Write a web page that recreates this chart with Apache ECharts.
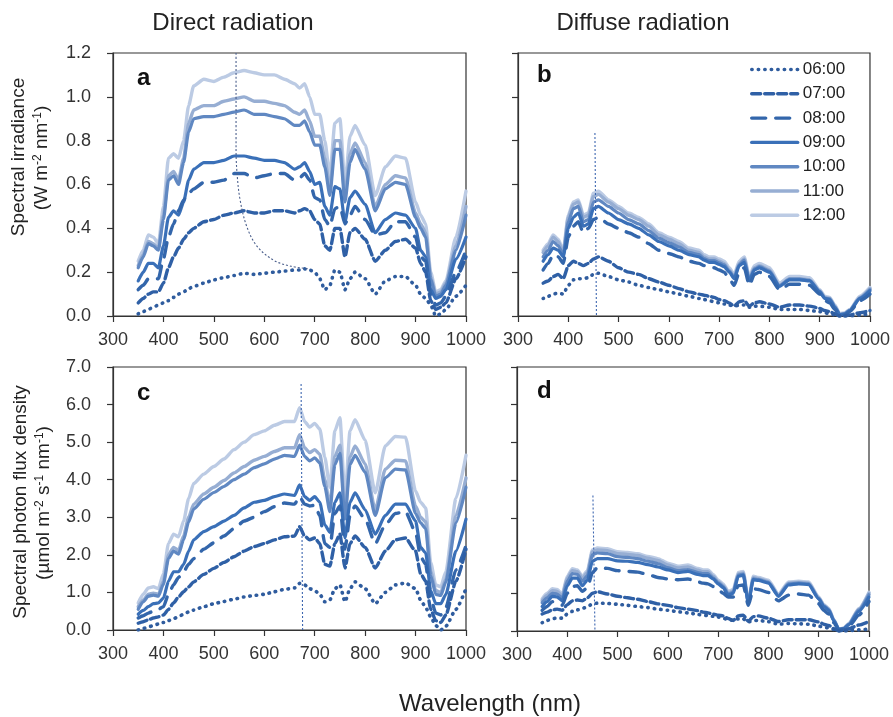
<!DOCTYPE html>
<html>
<head>
<meta charset="utf-8">
<script src="https://cdn.jsdelivr.net/npm/echarts@6/dist/echarts.min.js"></script>
<style>
html, body { margin: 0; padding: 0; background: #fff; }
#chart { width: 893px; height: 717px; }
</style>
</head>
<body>
<div id="chart"></div>
<script>
// Wavelength grid (nm) shared by every spectrum
const wavelengths = [
  350, 360, 370, 380, 390, 400, 410, 420, 430, 440, 450, 460,
  480, 500, 520, 540, 560, 580, 600, 620, 640, 660,
  670, 680, 690, 700, 710, 720, 730, 740, 750, 760, 770, 780,
  800, 820, 840, 860, 880, 900,
  910, 920, 930, 940, 950, 960,
  980, 1000
];

const hours = ['06:00', '07:00', '08:00', '09:00', '10:00', '11:00', '12:00'];
const xTicks = [300, 400, 500, 600, 700, 800, 900, 1000];

// (a) Direct radiation, spectral irradiance (W m-2 nm-1)
const dirIrr06 = [.01,.02,.03,.04,.05,.06,.07,.085,.10,.11,.125,.135, .15,.165,.175,.185,.195,.19,.195,.20,.205,.21, .21,.215,.21,.20,.17,.12,.14,.21,.20,.12,.17,.20, .17,.10,.16,.18,.18,.14, .10,.08,.05,0,.01,.03, .09,.14];
const dirIrr07 = [.06,.08,.10,.11,.11,.15,.22,.27,.31,.35,.38,.40, .43,.44,.46,.47,.48,.47,.47,.48,.48,.47, .48,.49,.48,.44,.42,.32,.30,.40,.40,.27,.38,.40, .35,.25,.30,.34,.35,.31, .24,.20,.07,.03,.04,.06, .17,.27];
const dirIrr08 = [.12,.14,.17,.17,.17,.26,.36,.42,.48,.53,.56,.58, .61,.61,.62,.65,.65,.63,.64,.65,.65,.62, .63,.65,.62,.54,.53,.44,.41,.49,.50,.42,.46,.50, .44,.37,.38,.43,.43,.36, .27,.25,.10,.05,.06,.09, .20,.30];
const dirIrr09 = [.16,.20,.24,.24,.22,.32,.45,.48,.46,.52,.62,.67, .70,.70,.71,.73,.73,.72,.71,.71,.70,.67, .68,.70,.66,.60,.61,.50,.46,.59,.58,.43,.54,.57, .51,.38,.44,.47,.46,.40, .30,.27,.12,.08,.09,.12, .26,.36];
const dirIrr10 = [.22,.27,.33,.32,.30,.44,.62,.64,.60,.70,.84,.90, .91,.91,.92,.93,.94,.92,.92,.91,.90,.87, .87,.89,.84,.78,.78,.68,.55,.76,.76,.52,.70,.76, .67,.48,.58,.61,.60,.45, .40,.36,.17,.09,.10,.14, .30,.46];
const dirIrr11 = [.23,.28,.34,.33,.31,.46,.64,.66,.62,.72,.88,.94, .96,.96,.98,.99,1.00,.98,.98,.97,.96,.93, .92,.94,.89,.82,.82,.72,.58,.80,.80,.55,.74,.79, .70,.50,.60,.64,.63,.47, .42,.38,.18,.10,.11,.15, .32,.50];
const dirIrr12 = [.25,.30,.37,.36,.33,.50,.72,.74,.72,.80,.96,1.05, 1.08,1.07,1.09,1.11,1.12,1.11,1.10,1.10,1.08,1.06, 1.04,1.06,1.00,.92,.92,.80,.64,.88,.90,.60,.82,.87, .78,.55,.68,.73,.72,.52, .46,.42,.20,.11,.12,.16, .36,.57];

// (b) Diffuse radiation, spectral irradiance (W m-2 nm-1)
const difIrr06 = [.08,.09,.10,.105,.10,.14,.165,.17,.17,.175,.19,.195, .18,.165,.155,.14,.13,.12,.11,.10,.09,.08, .075,.07,.065,.06,.055,.05,.045,.05,.05,.04,.045,.045, .04,.03,.03,.03,.025,.02, .015,.01,.005,0,0,0, .005,.01];
const difIrr07 = [.15,.16,.18,.19,.17,.23,.25,.24,.23,.24,.26,.27, .25,.22,.20,.19,.17,.155,.14,.125,.11,.10, .095,.09,.085,.075,.07,.06,.045,.065,.07,.045,.06,.065, .055,.04,.05,.05,.045,.035, .025,.02,.01,0,0,.005, .015,.025];
const difIrr08 = [.21,.24,.28,.27,.24,.36,.41,.43,.38,.40,.44,.45, .42,.40,.38,.36,.33,.30,.285,.27,.25,.24, .23,.22,.22,.21,.20,.17,.14,.20,.22,.14,.19,.20, .18,.12,.145,.145,.14,.10, .07,.06,.03,0,.005,.02, .07,.10];
const difIrr09 = [.25,.28,.31,.30,.27,.40,.45,.47,.41,.42,.49,.50, .47,.44,.42,.40,.37,.34,.32,.30,.28,.27, .255,.245,.245,.235,.225,.20,.17,.23,.245,.16,.21,.22, .20,.135,.165,.165,.16,.11, .08,.075,.04,.005,.01,.025, .08,.115];
const difIrr10 = [.27,.30,.34,.32,.28,.43,.49,.50,.43,.44,.52,.53, .50,.47,.44,.42,.39,.355,.335,.315,.29,.28, .262,.253,.253,.243,.233,.205,.175,.235,.255,.165,.215,.225, .205,.138,.168,.168,.163,.112, .082,.078,.042,.006,.01,.026, .082,.12];
const difIrr11 = [.29,.32,.36,.34,.29,.45,.51,.52,.45,.46,.545,.555, .52,.49,.46,.44,.41,.37,.35,.33,.30,.29, .27,.26,.26,.25,.24,.21,.18,.24,.26,.17,.22,.23, .21,.14,.17,.17,.165,.115, .085,.08,.045,.008,.012,.028, .085,.125];
const difIrr12 = [.30,.33,.37,.35,.30,.46,.52,.53,.46,.47,.56,.57, .53,.50,.47,.45,.42,.38,.36,.34,.31,.30, .28,.27,.27,.26,.25,.22,.19,.25,.27,.18,.23,.24, .22,.15,.18,.18,.175,.12, .09,.085,.05,.01,.015,.03, .09,.13];

// (c) Direct radiation, spectral photon flux density (umol m-2 s-1 nm-1)
const dirPfd06 = [0,.04,.08,.12,.16,.20,.25,.30,.36,.42,.48,.53, .62,.70,.76,.82,.88,.92,.95,1.02,1.08,1.12, 1.24,1.20,1.10,1.05,.95,.75,.80,1.10,1.20,.75,1.10,1.28, 1.10,.70,1.00,1.20,1.25,1.10, .80,.60,.35,.12,0,.10, .55,1.10];
const dirPfd07 = [.18,.22,.27,.32,.35,.40,.55,.72,.88,1.02,1.15,1.28, 1.48,1.64,1.80,1.95,2.10,2.22,2.30,2.40,2.48,2.50, 2.75,2.50,2.40,2.45,2.30,1.75,1.70,2.30,2.55,1.65,2.30,2.50, 2.20,1.65,2.10,2.40,2.45,2.10, 1.50,1.30,.55,.25,.20,.40, 1.30,2.15];
const dirPfd08 = [.32,.38,.45,.50,.55,.62,.95,1.20,1.40,1.55,1.75,1.90, 2.15,2.32,2.50,2.70,2.90,3.00,3.15,3.28,3.38,3.35, 3.55,3.35,3.30,3.32,3.05,2.30,2.20,3.10,3.30,2.15,3.05,3.30, 2.95,2.30,2.80,3.10,3.15,2.60, 1.95,1.75,.85,.45,.40,.60, 1.60,2.25];
const dirPfd09 = [.42,.52,.62,.70,.72,.85,1.30,1.55,1.55,1.75,2.10,2.40, 2.62,2.75,2.90,3.05,3.25,3.40,3.45,3.55,3.62,3.58, 3.86,3.55,3.45,3.55,3.40,2.80,2.60,3.40,3.65,2.45,3.40,3.65, 3.20,2.55,3.05,3.35,3.35,2.90, 2.20,2.05,1.05,.70,.70,.95, 2.10,2.95];
const dirPfd10 = [.55,.75,.90,.93,.90,1.22,1.90,2.10,2.02,2.40,2.88,3.22, 3.48,3.66,3.82,4.00,4.15,4.32,4.42,4.55,4.65,4.62, 4.92,4.62,4.50,4.58,4.45,3.82,3.15,4.40,4.70,2.95,4.40,4.65, 4.20,3.05,4.05,4.28,4.26,3.10, 2.85,2.70,1.45,.95,.92,1.28, 2.85,3.80];
const dirPfd11 = [.62,.80,.95,.98,.95,1.30,2.00,2.20,2.12,2.50,3.00,3.35, 3.62,3.80,3.98,4.18,4.35,4.52,4.62,4.75,4.85,4.85, 5.20,4.85,4.72,4.80,4.68,4.00,3.30,4.62,4.92,3.10,4.60,4.90, 4.42,3.20,4.28,4.52,4.50,3.30, 3.00,2.88,1.55,1.05,1.00,1.35, 3.05,4.05];
const dirPfd12 = [.72,.95,1.12,1.15,1.10,1.50,2.30,2.55,2.48,2.90,3.50,3.90, 4.15,4.35,4.55,4.80,5.00,5.20,5.30,5.45,5.55,5.55, 5.92,5.55,5.40,5.50,5.35,4.60,3.80,5.30,5.65,3.50,5.30,5.60, 5.05,3.65,4.90,5.15,5.13,3.70, 3.40,3.25,1.80,1.20,1.15,1.55, 3.50,4.65];

// (d) Diffuse radiation, spectral photon flux density (umol m-2 s-1 nm-1)
const difPfd06 = [.22,.28,.32,.35,.34,.45,.52,.56,.60,.64,.72,.74, .73,.71,.68,.65,.62,.58,.55,.51,.48,.44, .42,.41,.39,.37,.34,.30,.28,.32,.32,.24,.28,.28, .25,.18,.20,.19,.18,.13, .10,.08,.04,0,0,.01, .03,.05];
const difPfd07 = [.45,.50,.56,.58,.55,.70,.80,.82,.80,.88,1.00,1.04, .98,.92,.88,.84,.78,.72,.68,.62,.58,.54, .50,.48,.45,.42,.40,.33,.28,.40,.42,.26,.38,.40, .34,.25,.30,.30,.30,.24, .18,.15,.06,0,.02,.06, .16,.25];
const difPfd08 = [.55,.65,.78,.75,.68,1.00,1.18,1.20,1.05,1.15,1.55,1.68, 1.66,1.60,1.58,1.56,1.50,1.42,1.38,1.36,1.38,1.30, 1.27,1.25,1.18,1.10,1.00,.90,.90,1.20,1.22,.68,1.12,1.10, 1.02,.80,.95,.98,.95,.72, .55,.45,.22,.03,.05,.13, .42,.78];
const difPfd09 = [.65,.78,.92,.90,.80,1.20,1.40,1.40,1.20,1.35,1.85,1.92, 1.92,1.86,1.85,1.82,1.76,1.70,1.62,1.55,1.58,1.50, 1.47,1.47,1.38,1.25,1.15,.95,1.00,1.45,1.48,.75,1.36,1.34, 1.27,.92,1.22,1.25,1.23,.85, .65,.55,.27,.04,.06,.17, .52,.90];
const difPfd10 = [.75,.88,1.00,.98,.87,1.32,1.52,1.50,1.32,1.47,2.02,2.07, 2.05,1.97,1.95,1.92,1.85,1.79,1.68,1.60,1.63,1.55, 1.52,1.52,1.41,1.28,1.18,.98,1.03,1.48,1.51,.77,1.38,1.36, 1.29,.93,1.25,1.27,1.25,.86, .66,.57,.28,.04,.07,.18, .56,.96];
const difPfd11 = [.80,.95,1.07,1.05,.93,1.40,1.60,1.57,1.40,1.55,2.10,2.15, 2.13,2.05,2.03,2.00,1.93,1.87,1.75,1.67,1.70,1.61, 1.57,1.57,1.45,1.31,1.21,1.01,1.06,1.51,1.54,.78,1.41,1.39, 1.31,.95,1.27,1.29,1.27,.88, .68,.58,.29,.05,.07,.19, .58,1.00];
const difPfd12 = [.85,1.00,1.12,1.10,.98,1.45,1.65,1.62,1.45,1.60,2.15,2.20, 2.18,2.10,2.08,2.05,1.98,1.92,1.80,1.72,1.75,1.66, 1.62,1.62,1.50,1.35,1.25,1.05,1.10,1.55,1.58,.80,1.45,1.42, 1.35,.98,1.30,1.32,1.30,.90, .70,.60,.30,.05,.08,.20, .60,1.03];

// Thin guide traces: [wavelength, value]
const guideA = [[544, 1.2], [544, 0.76], [546, 0.65], [552, 0.53], [565, 0.41], [585, 0.32], [618, 0.255], [651, 0.228], [690, 0.215]];
const guideB = [[453, 0.835], [456, 0]];
const guideC = [[673, 6.55], [676, 0]];
const guideD = [[451, 3.59], [455, 0]];

// Per-hour line appearance
const hourColor = ['#2f5c9e', '#2f60a6', '#3366ab', '#3a70b8', '#6088c2', '#97aed3', '#bccbe4'];
const hourDash = [[0.5, 6], [9, 4], [14, 10], 'solid', 'solid', 'solid', 'solid'];
const hourWidth = [3.6, 3.4, 3.4, 3.2, 3.2, 3.4, 3.4];

const FONT = 'Liberation Sans, Arial, Helvetica, sans-serif';

const panels = [
  { grid: { left: 113, top: 53, width: 353, height: 263 }, ymax: 1.2, step: 0.2, yLabels: true,
    sets: [dirIrr06, dirIrr07, dirIrr08, dirIrr09, dirIrr10, dirIrr11, dirIrr12], guide: guideA },
  { grid: { left: 518, top: 53, width: 352, height: 263 }, ymax: 1.2, step: 0.2, yLabels: false,
    sets: [difIrr06, difIrr07, difIrr08, difIrr09, difIrr10, difIrr11, difIrr12], guide: guideB },
  { grid: { left: 113, top: 367, width: 353, height: 263 }, ymax: 7, step: 1, yLabels: true,
    sets: [dirPfd06, dirPfd07, dirPfd08, dirPfd09, dirPfd10, dirPfd11, dirPfd12], guide: guideC },
  { grid: { left: 517, top: 367, width: 352, height: 264 }, ymax: 7, step: 1, yLabels: false,
    sets: [difPfd06, difPfd07, difPfd08, difPfd09, difPfd10, difPfd11, difPfd12], guide: guideD }
];

const grids = [], xAxes = [], yAxes = [], series = [];
panels.forEach((p, i) => {
  grids.push(Object.assign({ show: true, borderColor: '#333', borderWidth: 1.2, backgroundColor: 'transparent' }, p.grid));
  xAxes.push({
    type: 'value', gridIndex: i, min: xTicks[0], max: xTicks[xTicks.length - 1], interval: 100,
    axisLine: { show: true, onZero: false, lineStyle: { color: '#333', width: 1.2 } },
    axisTick: { show: true, length: 6, lineStyle: { color: '#333', width: 1.2 } },
    axisLabel: { fontSize: 18, color: '#333', margin: 15, fontFamily: FONT, formatter: v => String(v) },
    splitLine: { show: false }
  });
  yAxes.push({
    type: 'value', gridIndex: i, min: 0, max: p.ymax, interval: p.step,
    axisLine: { show: true, onZero: false, lineStyle: { color: '#333', width: 1.2 } },
    axisTick: { show: true, length: 6, lineStyle: { color: '#333', width: 1.2 } },
    axisLabel: { show: p.yLabels, fontSize: 18, color: '#333', margin: 22, fontFamily: FONT,
                 formatter: v => v.toFixed(1) },
    splitLine: { show: false }
  });
  // lightest hour first so the darker morning traces sit on top
  for (let h = hours.length - 1; h >= 0; h--) {
    series.push({
      name: hours[h], type: 'line', xAxisIndex: i, yAxisIndex: i,
      data: wavelengths.map((w, k) => [w, p.sets[h][k]]),
      symbol: 'none', smooth: 0.2, smoothMonotone: 'x',
      lineStyle: { color: hourColor[h], width: hourWidth[h], type: hourDash[h], cap: 'round', join: 'round' },
      itemStyle: { color: hourColor[h] },
      emphasis: { disabled: true }, silent: true, z: 2 + (hours.length - h)
    });
  }
  series.push({
    type: 'line', xAxisIndex: i, yAxisIndex: i, data: p.guide,
    symbol: 'none', smooth: i === 0 ? 0.35 : false,
    lineStyle: { color: i === 0 ? '#4b5f8c' : '#3d66b0', width: 1.1, type: [2, 2] },
    silent: true, z: 20
  });
});

const supRich = {
  s: { fontSize: 12, fontFamily: FONT, fill: '#222', verticalAlign: 'top', lineHeight: 21 }
};

const graphic = [
  { type: 'text', x: 233, y: 23, style: { text: 'Direct radiation', font: '24px ' + FONT, fill: '#222', align: 'center', verticalAlign: 'middle' } },
  { type: 'text', x: 643, y: 23, style: { text: 'Diffuse radiation', font: '24px ' + FONT, fill: '#222', align: 'center', verticalAlign: 'middle' } },
  { type: 'text', x: 490, y: 704, style: { text: 'Wavelength (nm)', font: '24px ' + FONT, fill: '#222', align: 'center', verticalAlign: 'middle' } },
  { type: 'text', x: 137, y: 78, style: { text: 'a', font: 'bold 24px ' + FONT, fill: '#111', align: 'left', verticalAlign: 'middle' } },
  { type: 'text', x: 537, y: 75, style: { text: 'b', font: 'bold 24px ' + FONT, fill: '#111', align: 'left', verticalAlign: 'middle' } },
  { type: 'text', x: 137, y: 393, style: { text: 'c', font: 'bold 24px ' + FONT, fill: '#111', align: 'left', verticalAlign: 'middle' } },
  { type: 'text', x: 537, y: 391, style: { text: 'd', font: 'bold 24px ' + FONT, fill: '#111', align: 'left', verticalAlign: 'middle' } },
  { type: 'text', x: 19, y: 157, rotation: Math.PI / 2,
    style: { text: 'Spectral irradiance', font: '19px ' + FONT, fill: '#222', align: 'center', verticalAlign: 'middle' } },
  { type: 'text', x: 42, y: 158, rotation: Math.PI / 2,
    style: { text: '(W m{s|-2} nm{s|-1})', font: '19px ' + FONT, fill: '#222', align: 'center', verticalAlign: 'middle', lineHeight: 21, rich: supRich } },
  { type: 'text', x: 21, y: 502, rotation: Math.PI / 2,
    style: { text: 'Spectral photon flux density', font: '19px ' + FONT, fill: '#222', align: 'center', verticalAlign: 'middle' } },
  { type: 'text', x: 44, y: 503, rotation: Math.PI / 2,
    style: { text: '(µmol m{s|-2} s{s|-1} nm{s|-1})', font: '19px ' + FONT, fill: '#222', align: 'center', verticalAlign: 'middle', lineHeight: 21, rich: supRich } }
];

const chart = echarts.init(document.getElementById('chart'), null, { renderer: 'canvas' });
chart.setOption({
  animation: false,
  backgroundColor: '#fff',
  textStyle: { fontFamily: FONT },
  grid: grids,
  xAxis: xAxes,
  yAxis: yAxes,
  legend: {
    data: hours, orient: 'vertical', left: 750, top: 61,
    itemWidth: 46, itemHeight: 12, itemGap: 7.3, padding: 0,
    selectedMode: false,
    itemStyle: { opacity: 0 },
    lineStyle: { width: 3.4 },
    textStyle: { fontSize: 17, color: '#222', fontFamily: FONT }
  },
  series: series,
  graphic: graphic
});
</script>
</body>
</html>
